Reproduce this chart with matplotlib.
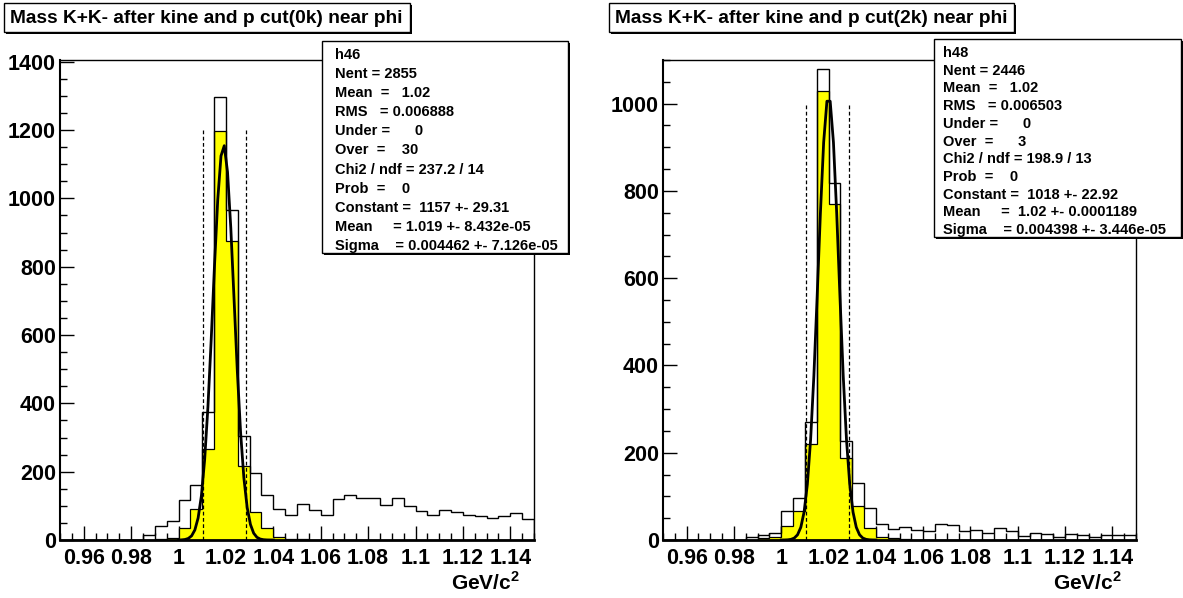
import numpy as np
import matplotlib
matplotlib.use("Agg")
import matplotlib.pyplot as plt
from matplotlib.patches import Rectangle
from matplotlib.ticker import MultipleLocator, FuncFormatter

W, H = 1183, 598

# ---------------- data ----------------
x_lo, x_hi, n_bins = 0.95, 1.15, 40

left_all = [0, 0, 0, 0, 0, 0, 0, 16, 42, 57, 118, 162, 375, 1298, 966, 305,
            197, 132, 91, 73, 104, 87, 72, 121, 133, 122, 123, 103, 123, 100,
            84, 73, 88, 83, 73, 69, 65, 69, 80, 61]
left_sel = [0, 0, 0, 0, 0, 0, 0, 0, 3, 5, 35, 91, 267, 1198, 874, 217,
            83, 34, 8, 3, 2, 0, 0, 0, 0, 0, 0, 0, 0, 0,
            0, 0, 0, 0, 0, 0, 0, 0, 0, 0]
right_all = [0, 0, 0, 0, 0, 0, 0, 6, 11, 16, 66, 96, 270, 1080, 818, 226,
             130, 73, 37, 25, 29, 24, 21, 37, 34, 21, 24, 15, 27, 21,
             9, 16, 13, 7, 13, 11, 6, 12, 12, 11]
right_sel = [0, 0, 0, 0, 0, 0, 0, 0, 4, 6, 33, 66, 221, 1029, 770, 189,
             77, 27, 8, 4, 2, 1, 0, 0, 0, 0, 0, 0, 0, 0,
             0, 0, 0, 0, 0, 0, 0, 0, 0, 0]

left_fit = dict(const=1157, mean=1.019, sigma=0.004462)
right_fit = dict(const=1018, mean=1.02, sigma=0.004398)
fit_range = (1.0, 1.04)
fit_npts = 30

cut_lines = [1.0105, 1.0285]
left_cut_top, right_cut_top = 1200, 1000
left_ymax, right_ymax = 1405, 1100

left_title = "Mass K+K- after kine and p cut(0k) near phi"
right_title = "Mass K+K- after kine and p cut(2k) near phi"

left_stats = ["h46", "Nent = 2855", "Mean  =   1.02", "RMS   = 0.006888",
              "Under =      0", "Over  =    30", "Chi2 / ndf = 237.2 / 14",
              "Prob  =    0", "Constant =  1157 +- 29.31",
              "Mean     = 1.019 +- 8.432e-05",
              "Sigma    = 0.004462 +- 7.126e-05"]
right_stats = ["h48", "Nent = 2446", "Mean  =   1.02", "RMS   = 0.006503",
               "Under =      0", "Over  =      3", "Chi2 / ndf = 198.9 / 13",
               "Prob  =    0", "Constant =  1018 +- 22.92",
               "Mean     =  1.02 +- 0.0001189",
               "Sigma    = 0.004398 +- 3.446e-05"]

x_label = r"GeV/c$^{\mathbf{2}}$"

# ---------------- style ----------------
FONT = "Liberation Sans"
plt.rcParams["font.family"] = [FONT, "DejaVu Sans"]
plt.rcParams["font.weight"] = "bold"
plt.rcParams["mathtext.fontset"] = "custom"
plt.rcParams["mathtext.rm"] = FONT + ":bold"
plt.rcParams["mathtext.bf"] = FONT + ":bold"

fig = plt.figure(figsize=(W / 100, H / 100), dpi=100)
fig.patch.set_facecolor("white")


def fx(px):
    return px / W


def fy(py):
    return 1 - py / H


def box(x0, y0, x1, y1, shadow=3):
    fig.patches.append(Rectangle((fx(x0 + shadow), fy(y1 + shadow)),
                                 fx(x1 - x0), (y1 - y0) / H,
                                 transform=fig.transFigure, facecolor="black",
                                 edgecolor="black", lw=0, zorder=5))
    fig.patches.append(Rectangle((fx(x0), fy(y1)), fx(x1 - x0), (y1 - y0) / H,
                                 transform=fig.transFigure, facecolor="white",
                                 edgecolor="black", lw=1.0, zorder=6))


def fmt(v, pos):
    return "%g" % round(v, 4)


edges = np.linspace(x_lo, x_hi, n_bins + 1)

LABEL_SIZE = 15.5


def panel(rect, all_vals, sel_vals, fit, ymax, cut_top, title, title_box,
          stats, stats_box, stats_dx):
    l, r, t, b = rect
    ax = fig.add_axes([fx(l), fy(b), fx(r - l), (b - t) / H])
    ax.stairs(sel_vals, edges, fill=True, facecolor="#ffff00",
              edgecolor="none", zorder=2)
    ax.stairs(sel_vals, edges, color="black", lw=0.9, zorder=3)
    ax.stairs(all_vals, edges, color="black", lw=1.0, zorder=3)
    xs = np.linspace(fit_range[0], fit_range[1], fit_npts)
    ys = fit["const"] * np.exp(-0.5 * ((xs - fit["mean"]) / fit["sigma"]) ** 2)
    ax.plot(xs, ys, color="black", lw=2.0, zorder=4)
    ax.vlines(cut_lines, 0, cut_top, colors="black", linestyles=(0, (3, 2)),
              lw=0.9, zorder=4)
    ax.set_xlim(x_lo, x_hi)
    ax.set_ylim(0, ymax)
    ax.xaxis.set_major_locator(MultipleLocator(0.02))
    ax.xaxis.set_minor_locator(MultipleLocator(0.005))
    ax.yaxis.set_major_locator(MultipleLocator(200))
    ax.yaxis.set_minor_locator(MultipleLocator(50))
    ax.xaxis.set_major_formatter(FuncFormatter(fmt))
    ax.tick_params(which="both", direction="in", top=False, right=False,
                   labelsize=LABEL_SIZE, width=1.0, color="black")
    ax.tick_params(axis="x", which="major", length=10, pad=6)
    ax.tick_params(axis="x", which="minor", length=5)
    ax.tick_params(axis="y", which="major", length=10, pad=3)
    ax.tick_params(axis="y", which="minor", length=5)
    for lab in ax.get_xticklabels() + ax.get_yticklabels():
        lab.set_fontweight("bold")
    ax.spines["bottom"].set_linewidth(2.0)
    ax.spines["left"].set_linewidth(1.5)
    ax.spines["top"].set_linewidth(1.0)
    ax.spines["right"].set_linewidth(1.0)
    fig.text(fx(r - 14), fy(583), x_label, ha="right", va="center",
             fontsize=15, fontweight="bold")
    # title
    tx0, ty0, tx1, ty1 = title_box
    box(tx0, ty0, tx1, ty1, shadow=2)
    fig.text(fx(tx0 + 6), fy((ty0 + ty1) / 2 + 1), title, ha="left",
             va="center", fontsize=13.8, fontweight="bold", zorder=7)
    # stats
    sx0, sy0, sx1, sy1 = stats_box
    box(sx0, sy0, sx1, sy1, shadow=2)
    n = len(stats)
    first, last = sy0 + 14, sy1 - 7
    for i, s in enumerate(stats):
        yy = first + (last - first) * i / (n - 1)
        fig.text(fx(sx0 + stats_dx), fy(yy), s, ha="left", va="center",
                 fontsize=10.5, fontweight="bold", zorder=7)
    return ax


panel((60, 534, 60, 540), left_all, left_sel, left_fit, left_ymax,
      left_cut_top, left_title, (4, 3, 410, 32), left_stats,
      (322, 41, 568, 253), 13)
panel((663, 1136, 60, 540), right_all, right_sel, right_fit, right_ymax,
      right_cut_top, right_title, (609, 3, 1014, 32), right_stats,
      (934, 39, 1181, 237), 9)

fig.savefig("out.png", dpi=100, facecolor="white")
